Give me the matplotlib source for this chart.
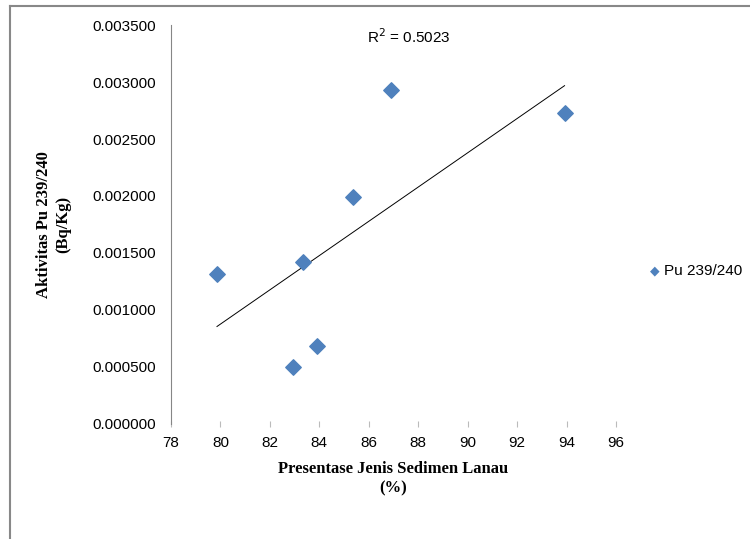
import numpy as np
import matplotlib
matplotlib.use("Agg")
import matplotlib.pyplot as plt
from matplotlib.lines import Line2D

# data
lanau_pct = [79.86, 83.33, 82.93, 83.90, 85.35, 86.89, 93.92]
pu_activity = [0.00132, 0.00142, 0.00050, 0.00068, 0.00199, 0.00293, 0.00273]
x_ticks = [78, 80, 82, 84, 86, 88, 90, 92, 94, 96]
y_ticks = [0.0, 0.0005, 0.001, 0.0015, 0.002, 0.0025, 0.003, 0.0035]

blue = '#4F81BD'

fig = plt.figure(figsize=(7.5, 5.39), dpi=100)
ax = fig.add_axes([0.228, 0.2134, 0.5933, 0.7402])

# outer chart border (only top and left visible in the original)
fig.add_artist(Line2D([9.5 / 750, 9.5 / 750], [0, 1 - 5.5 / 539], transform=fig.transFigure,
                      color='#888888', lw=1.5))
fig.add_artist(Line2D([9.5 / 750, 1], [1 - 5.5 / 539, 1 - 5.5 / 539], transform=fig.transFigure,
                      color='#888888', lw=1.5))

ax.scatter(lanau_pct, pu_activity, marker='D', s=62, color=blue, zorder=3)

# linear trendline
x = np.array(lanau_pct)
y = np.array(pu_activity)
m, b = np.polyfit(x, y, 1)
xs = np.array([x.min(), x.max()])
ax.plot(xs, m * xs + b, color='black', lw=0.7)

ax.set_xlim(78, 96)
ax.set_ylim(0, 0.0035)
ax.set_xticks(x_ticks)
ax.set_yticks(y_ticks)
ax.set_yticklabels([f'{v:.6f}' for v in y_ticks], fontsize=11, family='Liberation Sans')
ax.set_xticklabels([str(v) for v in x_ticks], fontsize=11, family='Liberation Sans')

for s in ['top', 'right', 'bottom']:
    ax.spines[s].set_visible(False)
ax.spines['left'].set_color('#868686')
ax.tick_params(axis='y', length=0, pad=11)
ax.tick_params(axis='x', length=5, direction='inout', color='#BBBBBB', pad=6)

ax.set_xlabel('Presentase Jenis Sedimen Lanau\n(%)', fontsize=12, fontweight='bold',
              family='Liberation Serif', labelpad=8, linespacing=1.3)
ax.set_ylabel('Aktivitas Pu 239/240\n(Bq/Kg)', fontsize=12, fontweight='bold',
              family='Liberation Serif', labelpad=15, linespacing=1.3)

ax.text(0.535, 0.97, 'R$^2$ = 0.5023', transform=ax.transAxes, fontsize=11,
        family='Liberation Sans', ha='center', va='center')

# legend
fig.text(655 / 750, 1 - 271 / 539, '\u25C6', color=blue, fontsize=9, ha='center', va='center',
         family='DejaVu Sans')
fig.text(664 / 750, 1 - 271 / 539, 'Pu 239/240', fontsize=11, family='Liberation Sans',
         ha='left', va='center')

fig.savefig('out.png', dpi=100)
